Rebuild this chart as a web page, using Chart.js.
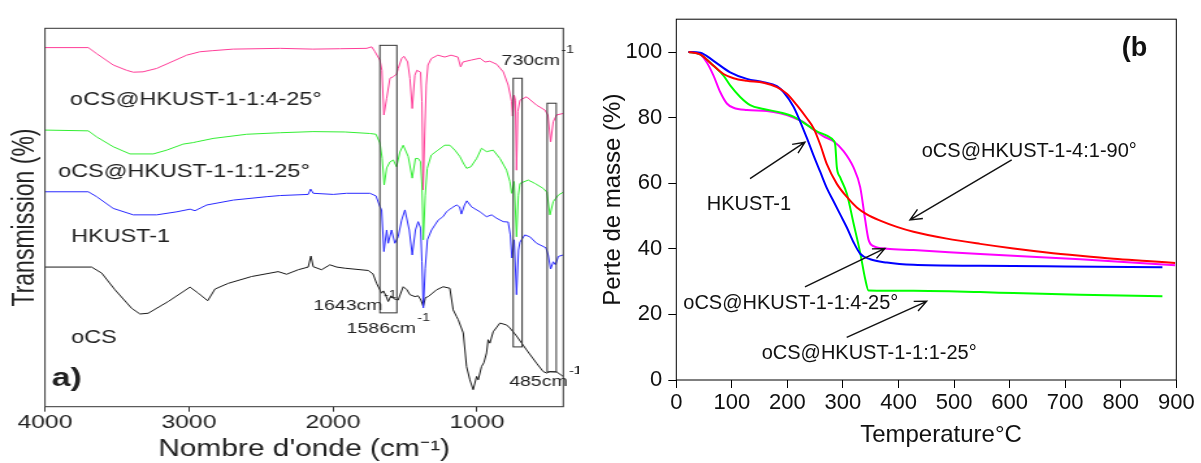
<!DOCTYPE html>
<html>
<head>
<meta charset="utf-8">
<script src="https://cdn.jsdelivr.net/npm/chart.js@4.4.1/dist/chart.umd.min.js"></script>
<style>
  html, body { margin: 0; padding: 0; background: #fff; }
  body { width: 1201px; height: 463px; position: relative; overflow: hidden; }
  /* the FTIR panel of the original figure is stretched sideways */
  #wrapA { position: absolute; left: 0; top: 0; width: 445px; height: 463px; transform: scaleX(1.3); transform-origin: 0 0; }
  #wrapB { position: absolute; left: 580px; top: 0; width: 621px; height: 463px; }
</style>
</head>
<body>
<div id="wrapA"><canvas id="ftir" width="445" height="463"></canvas></div>
<div id="wrapB"><canvas id="tga" width="621" height="463"></canvas></div>
<script>
// ================= DATA (a) FTIR =================
const ftirTicks = [1000, 2000, 3000, 4000];

const pinkWave = [4000,3699,3641,3526,3433,3387,3319,3224,3111,3016,2924,2833,2694,2368,2139,1951,1766,1731,1708,1674,1660,1646,1627,1604,1581,1558,1547,1523,1507,1481,1465,1449,1431,1417,1391,1382,1373,1363,1352,1340,1317,1271,1224,1179,1132,1113,1097,1040,979,944,910,863,817,783,759,752,741,733,725,716,701,655,586,528,507,488,470,447,401];
const pinkT = [94.9,94.9,93.3,90.3,88.9,88.4,88.5,89.4,91.3,92.9,93.8,94.1,94.5,94.7,94.5,94.6,94.7,95.1,93.8,91.6,88.9,77.1,81.5,86.8,87.2,87.9,89.4,92.0,92.6,91.1,86.7,78.8,87.6,88.9,88.4,80.6,57.3,71.8,85.0,90.3,92.0,92.9,92.4,92.9,92.4,89.8,91.1,91.6,92.1,91.1,91.3,90.5,88.5,85.0,80.6,76.8,82.3,81.0,62.5,78.0,81.0,81.9,79.7,78.4,77.1,70.0,75.3,77.1,77.5];

const greenWave = [4000,3699,3641,3526,3410,3248,3155,3040,2970,2947,2831,2599,2368,2137,1917,1743,1701,1674,1658,1644,1627,1604,1581,1558,1535,1512,1477,1449,1427,1408,1391,1382,1372,1359,1345,1317,1271,1224,1188,1153,1118,1095,1072,1042,1002,968,933,887,840,794,771,759,741,725,712,701,644,597,540,514,493,470,435,401];
const greenT = [73.1,72.9,71.3,68.7,66.8,66.8,67.8,69.4,69.8,70.0,70.9,72.0,72.4,72.7,72.6,72.2,72.0,69.7,65.6,58.6,63.1,64.7,65.2,63.4,67.3,69.1,66.1,60.4,65.6,65.6,64.7,58.6,44.1,55.9,63.0,66.5,67.8,69.1,69.1,67.8,66.1,64.4,63.0,63.4,65.6,68.3,67.4,67.8,65.6,62.5,59.5,56.4,59.5,44.9,55.9,59.0,59.9,59.0,57.7,56.7,50.7,54.2,55.9,56.7];

const blueWave = [4000,3699,3641,3526,3387,3224,3085,2993,2958,2877,2692,2460,2368,2172,2155,2137,1998,1905,1743,1701,1674,1662,1646,1627,1616,1593,1570,1547,1523,1500,1470,1449,1427,1408,1391,1382,1372,1359,1344,1315,1269,1236,1211,1177,1141,1120,1108,1086,1070,1037,979,933,898,863,817,783,768,757,741,725,711,701,667,632,586,521,505,488,470,454,435,401];
const blueT = [56.8,56.8,55.5,52.4,50.7,50.7,51.5,52.2,51.8,53.3,54.6,55.5,55.8,56.1,57.5,56.4,56.1,56.4,56.4,55.7,52.9,52.0,41.0,46.7,43.2,46.7,43.2,44.9,49.3,52.0,46.7,40.1,46.7,48.9,47.2,38.3,26.1,36.6,44.1,46.7,49.3,50.2,51.5,52.5,53.3,52.8,50.9,53.3,54.4,52.8,51.5,50.2,50.7,49.8,48.9,48.8,45.4,39.3,44.1,29.6,41.4,43.5,45.4,44.9,43.2,42.0,40.1,36.4,38.3,37.5,39.7,40.1];

const blackWave = [4000,3676,3606,3514,3398,3340,3283,3144,2993,2935,2870,2819,2727,2565,2380,2322,2241,2172,2153,2137,2079,2021,1974,1917,1755,1722,1697,1674,1662,1649,1632,1616,1597,1576,1547,1512,1486,1465,1431,1408,1389,1373,1358,1338,1280,1234,1188,1165,1141,1130,1095,1072,1049,1026,1002,991,968,952,933,922,910,887,840,794,771,725,655,586,540,516,493,447,401];
const blackT = [36.9,36.9,35.3,30.9,26.0,24.5,24.7,27.8,31.6,30.0,28.0,31.1,32.6,34.4,35.7,35.0,36.2,36.9,39.8,37.0,36.2,37.5,36.9,36.6,36.0,35.1,32.6,30.9,30.0,30.6,29.3,27.8,29.3,28.5,28.2,31.7,30.9,29.6,29.1,29.3,28.2,26.5,28.8,29.1,30.9,31.7,31.3,25.6,23.8,23.0,19.5,10.6,7.1,4.5,8.0,7.1,10.6,11.6,14.2,17.7,16.8,19.8,22.1,21.6,20.8,18.7,15.0,11.5,9.3,8.9,9.3,9.2,8.0];

// boxes round the marked bands (cm-1 / transmission units)
const boxHi = [1674, 748, 512];
const boxLo = [1556, 686, 449];
const boxTop = [95.5, 86.8, 80.2];
const boxBottom = [24.8, 15.8, 9.2];

// curve names and band labels
const ftirNames = ["oCS@HKUST-1-1:4-25°", "oCS@HKUST-1-1:1-25°", "HKUST-1", "oCS"];
const ftirNameX = [3826, 3908, 3819, 3819];
const ftirNameY = [79.7, 60.8, 43.6, 16.8];
const bandNames = ["730cm", "1643cm", "1586cm", "485cm"];
const bandX = [829, 2137, 1905, 776];
const bandY = [90.3, 25.6, 19.4, 5.4];

// ================= DATA (b) TGA =================
const tgaYTicks = [0, 20, 40, 60, 80, 100];

const redTemp = [22,43,67,85,103,127,157,181,199,217,235,247,259,271,289,307,325,343,367,397,427,487,547,607,667,727,787,847,898];
const redMass = [100,99.3,95.8,93.3,92,91.2,90.6,89.3,87.3,83.8,79.8,76.8,71.8,65.8,59.8,55.8,52.6,50.5,48.6,46.7,45.2,43.1,41.5,40.1,38.9,37.9,37,36.3,35.7];

const blueTemp = [22,43,67,97,127,157,181,193,211,223,235,247,259,271,283,295,307,319,331,349,379,427,547,700,875];
const blueMass = [100,99.8,97.3,93.8,91.8,90.8,89.6,87.8,83.3,78.8,73.8,68.5,63.5,58.5,54.5,50.5,46.5,42,38.5,36.8,35.8,35.1,34.8,34.6,34.4];

const greenTemp = [22,43,67,85,97,115,133,157,187,211,235,253,271,283,286,289,295,307,319,331,340,346,427,547,607,727,875];
const greenMass = [100,99.3,95.8,92.8,89.8,86.3,83.8,82.6,81.6,80.3,77.8,75.8,74.5,73,71.8,64.8,61.8,56.8,47.8,38.8,30.8,27.3,27.2,26.8,26.5,26,25.5];

const magTemp = [22,43,55,67,79,91,103,127,163,187,211,229,247,265,283,301,319,331,340,346,355,379,427,547,727,898];
const magMass = [100,99.3,96.8,92.8,87.8,84.3,83,82.3,82,81.3,80,78.6,76.3,74.3,72.8,69.8,64.8,58.8,48.8,42.8,40.8,40,39.6,38.4,36.8,35];

// names, where their text starts, and the arrows pointing at the curves
const tgaNames = ["HKUST-1", "oCS@HKUST-1-4:1-90°", "oCS@HKUST-1-1:4-25°", "oCS@HKUST-1-1:1-25°"];
const tgaNameX = [54.7, 441.8, 12.6, 153.7];
const tgaNameY = [51.9, 68.0, 21.5, 6.5];
const arrowFromX = [132.7, 603.7, 231.6, 306.7];
const arrowFromY = [61.4, 67.1, 28.4, 13.0];
const arrowToX = [231.6, 420.6, 375.5, 450.7];
const arrowToY = [72.5, 48.8, 40.1, 24.0];

// ================= HELPERS =================
const FONT = '"Liberation Sans", Arial, sans-serif';
Chart.defaults.font.family = FONT;
Chart.defaults.color = "#222";

const pts = (xs, ys) => xs.map((v, i) => ({ x: v, y: ys[i] }));

function arrow(ctx, x1, y1, x2, y2) {
  const ang = Math.atan2(y2 - y1, x2 - x1);
  const len = 13, spread = 0.42;
  ctx.beginPath();
  ctx.moveTo(x1, y1);
  ctx.lineTo(x2, y2);
  ctx.moveTo(x2 - len * Math.cos(ang - spread), y2 - len * Math.sin(ang - spread));
  ctx.lineTo(x2, y2);
  ctx.lineTo(x2 - len * Math.cos(ang + spread), y2 - len * Math.sin(ang + spread));
  ctx.stroke();
}

function supLabel(ctx, text, px, py, size) {
  ctx.font = size + "px " + FONT;
  ctx.fillText(text, px, py);
  const w = ctx.measureText(text).width;
  ctx.font = Math.round(size * 0.7) + "px " + FONT;
  ctx.fillText("-1", px + w + 1, py - size * 0.8);
}

// ================= PANEL (a) =================
const ftirDecor = {
  id: "ftirDecor",
  afterDatasetsDraw(chart) {
    const { ctx, chartArea: a, scales: { x, y } } = chart;
    ctx.save();
    ctx.strokeStyle = "#333";
    ctx.lineWidth = 1;
    ctx.strokeRect(a.left, a.top, a.right - a.left, a.bottom - a.top);

    boxHi.forEach((hi, i) => {
      const x1 = x.getPixelForValue(hi), x2 = x.getPixelForValue(boxLo[i]);
      const y1 = y.getPixelForValue(boxTop[i]), y2 = y.getPixelForValue(boxBottom[i]);
      ctx.strokeRect(x1, y1, x2 - x1, y2 - y1);
    });

    ctx.fillStyle = "#222";
    ctx.textBaseline = "alphabetic";
    ctx.font = "18px " + FONT;
    ftirNames.forEach((t, i) => {
      ctx.fillText(t, x.getPixelForValue(ftirNameX[i]), y.getPixelForValue(ftirNameY[i]));
    });
    bandNames.forEach((t, i) => {
      supLabel(ctx, t, x.getPixelForValue(bandX[i]), y.getPixelForValue(bandY[i]), 15);
    });
    ctx.font = "bold 26px " + FONT;
    ctx.fillText("a)", x.getPixelForValue(3953), y.getPixelForValue(5.4));
    ctx.restore();
  }
};

const thin = (label, data, color) => ({
  label, data, borderColor: color, borderWidth: 1, pointRadius: 0, tension: 0, fill: false
});

new Chart(document.getElementById("ftir"), {
  type: "line",
  data: {
    datasets: [
      thin("oCS@HKUST-1-1:4-25°", pts(pinkWave, pinkT), "#ff3d98"),
      thin("oCS@HKUST-1-1:1-25°", pts(greenWave, greenT), "#33ee33"),
      thin("HKUST-1", pts(blueWave, blueT), "#2a2aff"),
      thin("oCS", pts(blackWave, blackT), "#1a1a1a")
    ]
  },
  options: {
    responsive: false,
    animation: false,
    devicePixelRatio: 1,
    layout: { padding: { top: 28.3, right: 11.7, left: 0, bottom: 0 } },
    plugins: { legend: { display: false }, tooltip: { enabled: false } },
    scales: {
      x: {
        type: "linear", reverse: true, min: 400, max: 4000,
        afterBuildTicks: s => { s.ticks = ftirTicks.map(v => ({ value: v })); },
        afterFit: s => { s.height = 56.3; },
        grid: { display: true, drawOnChartArea: false, drawTicks: true, tickLength: 5, color: "#333" },
        border: { display: false },
        ticks: { padding: 0, font: { size: 19 }, color: "#222", maxRotation: 0, callback: v => String(v) },
        title: { display: true, text: "Nombre d'onde (cm⁻¹)", font: { size: 23 }, color: "#222", padding: { top: 0, bottom: 0 } }
      },
      y: {
        min: 0, max: 100,
        afterFit: s => { s.width = 34.6; },
        grid: { display: false },
        border: { display: false },
        ticks: { display: false },
        title: { display: true, text: "Transmission (%)", font: { size: 23 }, color: "#222", padding: { top: 5.4, bottom: 0 } }
      }
    }
  },
  plugins: [ftirDecor]
});

// ================= PANEL (b) =================
const tgaDecor = {
  id: "tgaDecor",
  afterDraw(chart) {
    const { ctx, chartArea: a, scales: { x, y } } = chart;
    ctx.save();
    ctx.strokeStyle = "#000";
    ctx.lineWidth = 1;
    ctx.strokeRect(a.left, a.top, a.right - a.left, a.bottom - a.top);

    ctx.lineWidth = 1.4;
    ctx.strokeStyle = "#111";
    arrowFromX.forEach((fx, i) => {
      arrow(ctx, x.getPixelForValue(fx), y.getPixelForValue(arrowFromY[i]),
        x.getPixelForValue(arrowToX[i]), y.getPixelForValue(arrowToY[i]));
    });

    ctx.fillStyle = "#111";
    ctx.textBaseline = "alphabetic";
    ctx.font = "20px " + FONT;
    tgaNames.forEach((t, i) => {
      ctx.fillText(t, x.getPixelForValue(tgaNameX[i]), y.getPixelForValue(tgaNameY[i]));
    });

    ctx.font = "bold 27px " + FONT;
    ctx.fillText("(b", x.getPixelForValue(801.7), y.getPixelForValue(98.8));

    ctx.font = "24px " + FONT;
    ctx.textAlign = "center";
    ctx.fillText("Temperature°C", 361, 441.7);
    ctx.restore();
  }
};

const thick = (label, data, color) => ({
  label, data, borderColor: color, borderWidth: 2, pointRadius: 0,
  cubicInterpolationMode: "monotone", fill: false
});

new Chart(document.getElementById("tga"), {
  type: "line",
  data: {
    datasets: [
      thick("oCS@HKUST-1-4:1-90°", pts(redTemp, redMass), "#ff0000"),
      thick("HKUST-1", pts(blueTemp, blueMass), "#0000ff"),
      thick("oCS@HKUST-1-1:1-25°", pts(greenTemp, greenMass), "#00ff00"),
      thick("oCS@HKUST-1-1:4-25°", pts(magTemp, magMass), "#ff00ff")
    ]
  },
  options: {
    responsive: false,
    animation: false,
    devicePixelRatio: 1,
    layout: { padding: { top: 12.3, right: 24.7, left: 0, bottom: 0 } },
    plugins: { legend: { display: false }, tooltip: { enabled: false } },
    scales: {
      x: {
        type: "linear", min: 0, max: 900,
        afterFit: s => { s.height = 83; },
        grid: { display: true, drawOnChartArea: false, drawTicks: true, tickLength: 8, color: "#000" },
        border: { display: false },
        ticks: { stepSize: 100, autoSkip: false, padding: 1.3, font: { size: 22 }, color: "#111", maxRotation: 0, callback: v => String(v) }
      },
      y: {
        min: 0, max: 110,
        afterBuildTicks: s => { s.ticks = tgaYTicks.map(v => ({ value: v })); },
        afterFit: s => { s.width = 96.3; },
        grid: { display: true, drawOnChartArea: false, drawTicks: true, tickLength: 8, color: "#000" },
        border: { display: false },
        ticks: { padding: 6, font: { size: 22 }, color: "#111", callback: v => String(v) },
        title: { display: true, text: "Perte de masse (%)", font: { size: 24 }, color: "#111", padding: { top: 18.6, bottom: 0 } }
      }
    }
  },
  plugins: [tgaDecor]
});
</script>
</body>
</html>
